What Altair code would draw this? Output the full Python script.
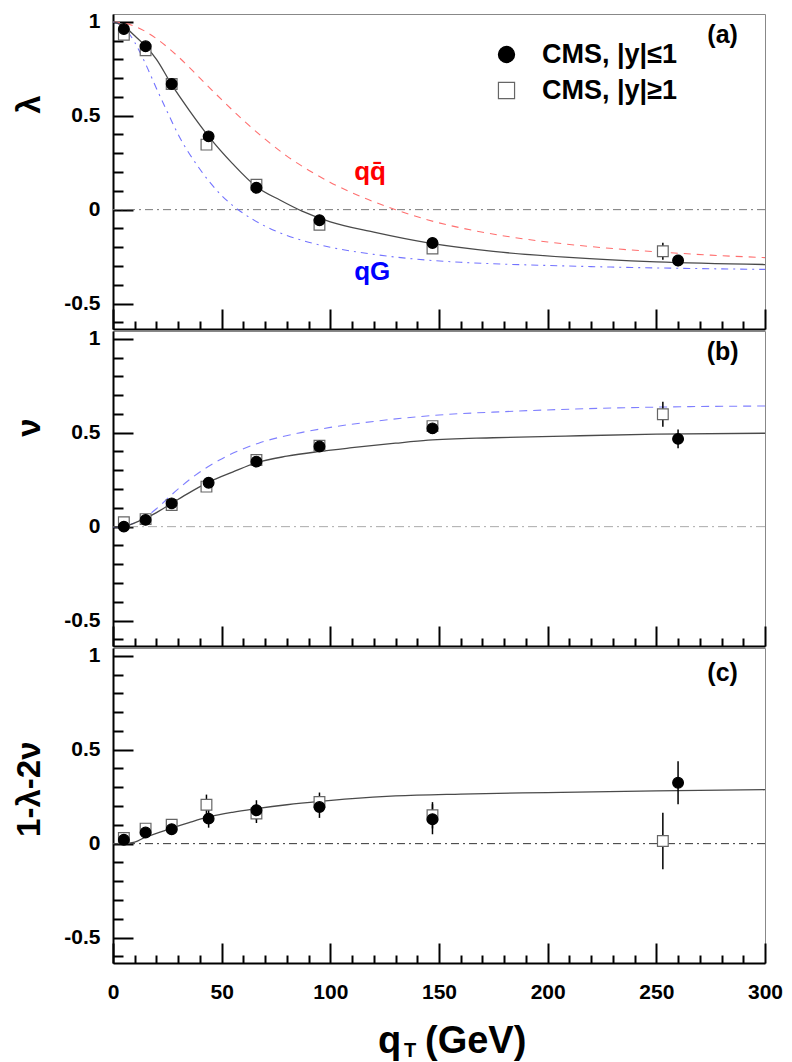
import altair as alt
import pandas as pd

FONT = "Liberation Sans"
W, H = 652, 315
YMIN, YMAX = -0.635, 1.041
XMIN, XMAX = 0, 300

series_names = ["CMS, |y|≤1", "CMS, |y|≥1"]

# bin centres (GeV)
x_circ = [5, 15, 27, 44, 66, 95, 147, 260]
x_sq = [5, 15, 27, 43, 66, 95, 147, 253]

# panel (a): lambda
lam_circ = [0.961, 0.869, 0.669, 0.390, 0.117, -0.056, -0.177, -0.271]
lam_circ_err = [0.01, 0.01, 0.01, 0.012, 0.012, 0.015, 0.015, 0.03]
lam_sq = [0.931, 0.848, 0.669, 0.346, 0.133, -0.080, -0.207, -0.221]
lam_sq_err = [0.015, 0.015, 0.015, 0.02, 0.02, 0.02, 0.025, 0.045]

# panel (b): nu
nu_circ = [0.0, 0.036, 0.124, 0.234, 0.346, 0.426, 0.523, 0.467]
nu_circ_err = [0.01, 0.01, 0.01, 0.01, 0.012, 0.015, 0.02, 0.05]
nu_sq = [0.023, 0.040, 0.115, 0.213, 0.355, 0.431, 0.535, 0.598]
nu_sq_err = [0.01, 0.01, 0.012, 0.015, 0.015, 0.015, 0.025, 0.066]

# panel (c): 1 - lambda - 2 nu
lt_circ = [0.021, 0.059, 0.077, 0.133, 0.178, 0.195, 0.130, 0.324]
lt_circ_err = [0.01, 0.015, 0.02, 0.048, 0.053, 0.058, 0.08, 0.115]
lt_sq = [0.030, 0.080, 0.101, 0.207, 0.160, 0.222, 0.151, 0.014]
lt_sq_err = [0.015, 0.02, 0.03, 0.054, 0.05, 0.05, 0.07, 0.15]

# curves
fit_lam_x = [0, 5, 10, 15, 20, 27, 35, 44, 55, 66, 77, 87, 100, 120, 145, 175, 208, 250, 300]
fit_lam_y = [1.0, 0.975, 0.925, 0.87, 0.80, 0.665, 0.53, 0.39, 0.245, 0.122, 0.05, -0.008, -0.065, -0.12, -0.177, -0.222, -0.253, -0.278, -0.292]

qqbar_x = [0, 10, 20, 30, 40, 50, 60, 70, 80, 90, 100, 115, 130, 145, 160, 180, 200, 225, 250, 275, 300]
qqbar_y = [1.0, 0.976, 0.91, 0.814, 0.70, 0.585, 0.475, 0.375, 0.285, 0.21, 0.145, 0.065, 0.0, -0.055, -0.097, -0.14, -0.172, -0.202, -0.224, -0.242, -0.255]

qg_x = [0, 5, 10, 15, 20, 25, 30, 40, 50, 60, 70, 80, 90, 100, 120, 140, 160, 180, 200, 250, 300]
qg_y = [1.0, 0.97, 0.89, 0.775, 0.645, 0.52, 0.40, 0.215, 0.075, -0.02, -0.088, -0.137, -0.173, -0.20, -0.238, -0.264, -0.28, -0.29, -0.297, -0.31, -0.318]

fit_nu_x = [0, 5, 10, 15, 20, 27, 35, 44, 55, 66, 80, 95, 110, 130, 145, 175, 208, 250, 300]
fit_nu_y = [0.0, 0.002, 0.02, 0.045, 0.075, 0.124, 0.18, 0.237, 0.29, 0.34, 0.375, 0.40, 0.42, 0.444, 0.46, 0.473, 0.482, 0.492, 0.497]

nu_qg_x = [0, 5, 10, 15, 20, 27, 37, 49, 67, 85, 100, 120, 150, 180, 210, 250, 300]
nu_qg_y = [0.0, 0.003, 0.02, 0.052, 0.095, 0.17, 0.266, 0.355, 0.444, 0.497, 0.528, 0.56, 0.594, 0.612, 0.625, 0.636, 0.642]

fit_lt_x = [0, 5, 10, 15, 20, 27, 35, 44, 55, 66, 80, 95, 110, 130, 160, 200, 250, 300]
fit_lt_y = [0.0, 0.0, 0.008, 0.035, 0.055, 0.083, 0.112, 0.142, 0.167, 0.186, 0.207, 0.225, 0.24, 0.254, 0.264, 0.272, 0.281, 0.287]

x_ticks = list(range(0, 301, 10))
y_ticks = [-0.6, -0.5, -0.4, -0.3, -0.2, -0.1, 0.0, 0.1, 0.2, 0.3, 0.4, 0.5, 0.6, 0.7, 0.8, 0.9, 1.0]
x_labels = [0, 50, 100, 150, 200, 250, 300]
y_labels = [-0.5, 0, 0.5, 1]

MAJOR_Y = "abs(datum.value*2 - round(datum.value*2)) < 0.001"
MAJOR_X = "abs(datum.value/50 - round(datum.value/50)) < 0.001"


def xs():
    return alt.Scale(domain=[XMIN, XMAX], nice=False, zero=False)


def ys():
    return alt.Scale(domain=[YMIN, YMAX], nice=False, zero=False)


def carrier():
    return alt.Chart(pd.DataFrame({"tx": [0.0], "ty": [0.0]})).mark_point(opacity=0)


def tick_layer():
    return carrier().encode(
        x=alt.X("tx:Q", scale=xs(), axis=alt.Axis(
            orient="top", offset=-H, values=x_ticks, labels=False, title=None, grid=False,
            domain=True, domainColor="black", domainWidth=2,
            ticks=True, tickColor="black", tickWidth=2,
            tickSize={"condition": {"test": MAJOR_X, "value": 20}, "value": 8})),
        y=alt.Y("ty:Q", scale=ys(), axis=alt.Axis(
            orient="right", offset=-W, values=y_ticks, labels=False, title=None, grid=False,
            domain=True, domainColor="black", domainWidth=2,
            ticks=True, tickColor="black", tickWidth=2,
            tickSize={"condition": {"test": MAJOR_Y, "value": 20}, "value": 10})),
    )


def label_layer(title, title_y, with_x):
    yax = alt.Axis(
        orient="left", values=y_labels, labelExpr="'' + datum.value", ticks=False, domain=False,
        grid=False, labelPadding=13, labelFont=FONT, labelFontSize=21, labelFontWeight="bold",
        labelColor="black", title=title, titleFont=FONT, titleFontSize=33, titleFontWeight="bold",
        titleColor="black", titleAngle=270, titleAlign="right", titleBaseline="alphabetic",
        titleX=-74, titleY=title_y)
    xax = None
    if with_x:
        xax = alt.Axis(
            orient="bottom", values=x_labels, labelExpr="'' + datum.value", ticks=False, domain=False,
            grid=False, labelPadding=18, labelFont=FONT, labelFontSize=21, labelFontWeight="bold",
            labelColor="black", labelFlush=False, labelOverlap=False, title=None)
    return carrier().encode(
        x=alt.X("tx:Q", scale=xs(), axis=xax),
        y=alt.Y("ty:Q", scale=ys(), axis=yax),
    )


def line(xv, yv, color, width, dash=None):
    df = pd.DataFrame({"x": xv, "y": yv})
    kw = dict(color=color, strokeWidth=width, interpolate="monotone")
    if dash:
        kw["strokeDash"] = dash
    return alt.Chart(df).mark_line(**kw).encode(
        x=alt.X("x:Q", scale=xs(), axis=None),
        y=alt.Y("y:Q", scale=ys(), axis=None),
    )


def zero_rule(color, dash):
    return alt.Chart(pd.DataFrame({"y": [0.0]})).mark_rule(
        color=color, strokeWidth=1, strokeDash=dash).encode(
        y=alt.Y("y:Q", scale=ys(), axis=None),
    )


def points_df(vc, ec, vs, es):
    rows = []
    for x, v, e in zip(x_sq, vs, es):
        rows.append({"x": x, "v": v, "lo": v - e, "hi": v + e, "s": series_names[1]})
    for x, v, e in zip(x_circ, vc, ec):
        rows.append({"x": x, "v": v, "lo": v - e, "hi": v + e, "s": series_names[0]})
    return pd.DataFrame(rows)


def err_layer(df):
    return alt.Chart(df).mark_rule(color="black", strokeWidth=1.5).encode(
        x=alt.X("x:Q", scale=xs(), axis=None),
        y=alt.Y("lo:Q", scale=ys(), axis=None),
        y2="hi:Q",
    )


def pts_layer(df, show_legend):
    leg = None
    if show_legend:
        leg = alt.Legend(orient="none", legendX=380, legendY=27, title=None, symbolSize=260,
                         symbolStrokeWidth=1.2, labelFont=FONT, labelFontSize=27,
                         labelFontWeight="bold", labelColor="black", rowPadding=8,
                         labelOffset=22, padding=0, symbolOpacity=1)
    return alt.Chart(df).mark_point(filled=True, opacity=1, size=115, strokeWidth=1.2).encode(
        x=alt.X("x:Q", scale=xs(), axis=None),
        y=alt.Y("v:Q", scale=ys(), axis=None),
        shape=alt.Shape("s:N", scale=alt.Scale(domain=series_names, range=["circle", "square"]), legend=leg),
        fill=alt.Fill("s:N", scale=alt.Scale(domain=series_names, range=["black", "white"]), legend=leg),
        stroke=alt.Stroke("s:N", scale=alt.Scale(domain=series_names, range=["black", "#666666"]), legend=leg),
    )


def text_at(txt, x, y, color="black", size=25, align="center", baseline="middle"):
    return alt.Chart(pd.DataFrame({"t": [txt], "x": [x], "y": [y]})).mark_text(
        font=FONT, fontSize=size, fontWeight="bold", color=color, align=align, baseline=baseline
    ).encode(
        x=alt.X("x:Q", scale=xs(), axis=None),
        y=alt.Y("y:Q", scale=ys(), axis=None),
        text="t:N",
    )


def pixel_text(txt, px, py, size, align="left"):
    return alt.Chart(pd.DataFrame({"t": [txt]})).mark_text(
        font=FONT, fontSize=size, fontWeight="bold", color="black", align=align, baseline="alphabetic"
    ).encode(x=alt.value(px), y=alt.value(py), text="t:N")


def panel(content_layers, title, title_y, with_x=False):
    content = alt.layer(*content_layers)
    return alt.layer(content, label_layer(title, title_y, with_x), tick_layer()).resolve_scale(
        x="independent", y="independent").properties(width=W, height=H)


# panel (a)
dfa = points_df(lam_circ, lam_circ_err, lam_sq, lam_sq_err)
pa = panel([
    zero_rule("#777777", [8, 4, 2, 4]),
    line(qqbar_x, qqbar_y, "#ff6f6f", 1.1, [7, 6]),
    line(qg_x, qg_y, "#7373ff", 1.1, [7, 5, 2, 5]),
    line(fit_lam_x, fit_lam_y, "#4a4a4a", 1.3),
    err_layer(dfa),
    pts_layer(dfa, True),
    text_at("qq\u0304", 111, 0.158, color="#ff0000", size=26, align="left", baseline="alphabetic"),
    text_at("qG", 111, -0.372, color="#0000ff", size=26, align="left", baseline="alphabetic"),
    text_at("(a)", 280.5, 0.93),
], "λ", 81)

# panel (b)
dfb = points_df(nu_circ, nu_circ_err, nu_sq, nu_sq_err)
pb = panel([
    zero_rule("#aaaaaa", [9, 4, 2, 4]),
    line(nu_qg_x, nu_qg_y, "#7f7fff", 1.1, [8, 6]),
    line(fit_nu_x, fit_nu_y, "#4a4a4a", 1.3),
    err_layer(dfb),
    pts_layer(dfb, False),
    text_at("(b)", 280.5, 0.927),
], "ν", 87)

# panel (c)
dfc = points_df(lt_circ, lt_circ_err, lt_sq, lt_sq_err)
pc = panel([
    zero_rule("#333333", [8, 4, 2, 4]),
    line(fit_lt_x, fit_lt_y, "#4a4a4a", 1.3),
    err_layer(dfc),
    pts_layer(dfc, False),
    text_at("(c)", 280.5, 0.91),
    pixel_text("q", 265, 405, 38),
    pixel_text("T", 291, 409, 20),
    pixel_text("(GeV)", 312, 405, 38),
], "1-λ-2ν", 93, with_x=True)

chart = alt.vconcat(pa, pb, pc, spacing=-7).resolve_scale(
    shape="independent", fill="independent", stroke="independent"
).configure_view(stroke="#888888", strokeWidth=1).properties(
    padding={"left": 4, "top": 2, "right": 0, "bottom": 0}
)

chart.save("out.html", embed_options={"renderer": "svg", "actions": False})
